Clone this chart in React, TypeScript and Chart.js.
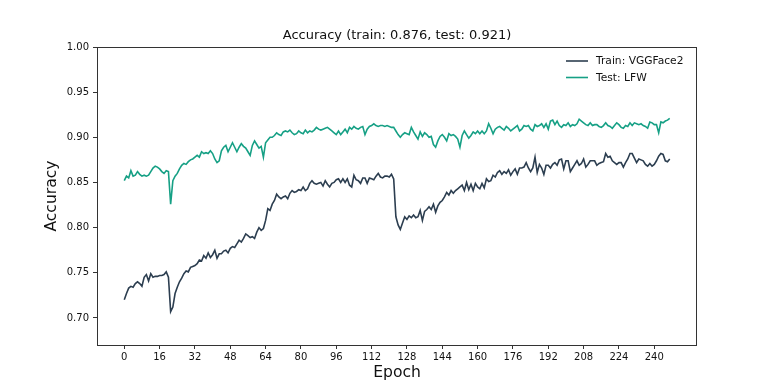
import React, { useEffect, useRef } from "react";
import { Chart, registerables } from "chart.js";

Chart.register(...registerables);

const TITLE = "Accuracy (train: 0.876, test: 0.921)";
const X_LABEL = "Epoch";
const Y_LABEL = "Accuracy";
const TRAIN_LABEL = "Train: VGGFace2";
const TEST_LABEL = "Test: LFW";

const X_TICKS = [0, 16, 32, 48, 64, 80, 96, 112, 128, 144, 160, 176, 192, 208, 224, 240];
const Y_TICKS = [0.7, 0.75, 0.8, 0.85, 0.9, 0.95, 1.0];

const TRAIN = [
  0.720, 0.727, 0.733, 0.735, 0.734, 0.738, 0.740, 0.738, 0.735, 0.745,
  0.748, 0.741, 0.749, 0.745, 0.746, 0.746, 0.747, 0.747, 0.748, 0.751,
  0.745, 0.707, 0.712, 0.727, 0.734, 0.740, 0.744, 0.749, 0.752, 0.751,
  0.756, 0.757, 0.758, 0.760, 0.764, 0.763, 0.769, 0.766, 0.772, 0.767,
  0.770, 0.775, 0.766, 0.771, 0.771, 0.774, 0.775, 0.772, 0.777, 0.779,
  0.778, 0.782, 0.786, 0.784, 0.788, 0.793, 0.791, 0.789, 0.790, 0.788,
  0.795, 0.800, 0.797, 0.799, 0.808, 0.821, 0.819, 0.826, 0.830, 0.837,
  0.834, 0.832, 0.834, 0.835, 0.832, 0.838, 0.841, 0.839, 0.840, 0.842,
  0.841, 0.845, 0.841, 0.843, 0.849, 0.852, 0.849, 0.848, 0.849, 0.850,
  0.846, 0.852, 0.848, 0.845, 0.849, 0.850, 0.853, 0.854, 0.850, 0.854,
  0.850, 0.854, 0.847, 0.845, 0.858, 0.853, 0.852, 0.849, 0.855, 0.855,
  0.849, 0.855, 0.854, 0.853, 0.857, 0.860, 0.856, 0.855, 0.857, 0.857,
  0.856, 0.859, 0.854, 0.812, 0.803, 0.798, 0.805, 0.812, 0.809, 0.813,
  0.811, 0.814, 0.811, 0.812, 0.819, 0.808, 0.818, 0.820, 0.823, 0.820,
  0.826, 0.817, 0.824, 0.828, 0.830, 0.834, 0.839, 0.836, 0.841, 0.838,
  0.841, 0.843, 0.845, 0.847, 0.841, 0.850, 0.842, 0.848, 0.841, 0.849,
  0.845, 0.843, 0.849, 0.844, 0.854, 0.851, 0.852, 0.858, 0.856, 0.861,
  0.863, 0.859, 0.862, 0.860, 0.864, 0.858, 0.862, 0.865, 0.859, 0.866,
  0.866, 0.867, 0.872, 0.866, 0.862, 0.866, 0.878, 0.861, 0.870, 0.866,
  0.859, 0.869, 0.869, 0.866, 0.870, 0.872, 0.869, 0.875, 0.876, 0.865,
  0.874, 0.874, 0.862, 0.866, 0.870, 0.874, 0.869, 0.871, 0.876, 0.867,
  0.870, 0.874, 0.874, 0.874, 0.869, 0.871, 0.872, 0.873, 0.882, 0.878,
  0.879, 0.874, 0.872, 0.870, 0.872, 0.872, 0.867, 0.872, 0.876, 0.882,
  0.882, 0.877, 0.872, 0.876, 0.875, 0.874, 0.870, 0.868, 0.871, 0.868,
  0.870, 0.874, 0.879, 0.882, 0.881, 0.874, 0.873, 0.876,
];

const TEST = [
  0.852, 0.857, 0.855, 0.863, 0.857, 0.858, 0.862, 0.859, 0.857, 0.858,
  0.857, 0.858, 0.862, 0.866, 0.868, 0.867, 0.865, 0.862, 0.860, 0.863,
  0.862, 0.826, 0.852, 0.857, 0.860, 0.865, 0.869, 0.871, 0.870, 0.873,
  0.875, 0.876, 0.878, 0.880, 0.878, 0.884, 0.882, 0.883, 0.882, 0.885,
  0.882, 0.876, 0.872, 0.874, 0.885, 0.889, 0.891, 0.884, 0.889, 0.894,
  0.889, 0.884, 0.889, 0.893, 0.890, 0.888, 0.884, 0.880, 0.891, 0.896,
  0.892, 0.888, 0.890, 0.878, 0.894, 0.897, 0.900, 0.900, 0.902, 0.905,
  0.903, 0.902, 0.906, 0.907, 0.906, 0.908, 0.905, 0.903, 0.904, 0.907,
  0.905, 0.904, 0.908, 0.905, 0.907, 0.906, 0.908, 0.911, 0.909, 0.908,
  0.909, 0.910, 0.911, 0.909, 0.907, 0.905, 0.903, 0.907, 0.903, 0.906,
  0.909, 0.905, 0.911, 0.909, 0.912, 0.910, 0.909, 0.911, 0.912, 0.903,
  0.909, 0.912, 0.913, 0.915, 0.913, 0.912, 0.913, 0.913, 0.912, 0.913,
  0.912, 0.911, 0.911, 0.907, 0.903, 0.900, 0.903, 0.905, 0.904, 0.903,
  0.911, 0.906, 0.902, 0.898, 0.906, 0.901, 0.905, 0.903, 0.900, 0.901,
  0.892, 0.889, 0.896, 0.901, 0.903, 0.900, 0.896, 0.904, 0.902, 0.903,
  0.901, 0.898, 0.889, 0.902, 0.907, 0.903, 0.899, 0.902, 0.906, 0.904,
  0.907, 0.904, 0.907, 0.904, 0.907, 0.915, 0.910, 0.904, 0.909, 0.911,
  0.912, 0.910, 0.908, 0.912, 0.910, 0.907, 0.909, 0.911, 0.913, 0.907,
  0.909, 0.913, 0.912, 0.913, 0.909, 0.907, 0.914, 0.912, 0.913, 0.915,
  0.911, 0.915, 0.909, 0.918, 0.919, 0.914, 0.918, 0.913, 0.911, 0.914,
  0.913, 0.916, 0.912, 0.914, 0.913, 0.915, 0.920, 0.918, 0.916, 0.914,
  0.913, 0.916, 0.913, 0.914, 0.914, 0.912, 0.911, 0.913, 0.916, 0.913,
  0.912, 0.910, 0.913, 0.916, 0.914, 0.911, 0.910, 0.913, 0.912, 0.916,
  0.913, 0.916, 0.915, 0.914, 0.915, 0.913, 0.912, 0.910, 0.917, 0.916,
  0.914, 0.914, 0.905, 0.917, 0.916, 0.918, 0.919, 0.921,
];

const TRAIN_COLOR = "#2c3e50";
const TEST_COLOR = "#16a085";
const FONT = "'DejaVu Sans', sans-serif";

export default function App() {
  const ref = useRef<HTMLCanvasElement>(null);

  useEffect(() => {
    const canvas = ref.current;
    if (!canvas) return;

    const decor = {
      id: "decor",
      afterDraw(chart: any) {
        const ctx = chart.ctx;
        const a = chart.chartArea;
        ctx.save();
        // frame
        ctx.strokeStyle = "#333";
        ctx.lineWidth = 1;
        ctx.strokeRect(a.left + 0.5, a.top + 0.5, a.right - a.left - 1, a.bottom - a.top);
        // title
        ctx.fillStyle = "#111";
        ctx.textAlign = "center";
        ctx.textBaseline = "middle";
        ctx.font = `13px ${FONT}`;
        ctx.fillText(TITLE, (a.left + a.right) / 2, 36);
        // x label
        ctx.font = `15.6px ${FONT}`;
        ctx.fillText(X_LABEL, (a.left + a.right) / 2, 373);
        // y label
        ctx.save();
        ctx.translate(52, (a.top + a.bottom) / 2);
        ctx.rotate(-Math.PI / 2);
        ctx.fillText(Y_LABEL, 0, 0);
        ctx.restore();
        // legend
        const items = chart.data.datasets.map((d: any) => ({ label: d.label, color: d.borderColor }));
        ctx.font = `10.7px ${FONT}`;
        ctx.textAlign = "left";
        items.forEach((it: any, i: number) => {
          const y = 61 + i * 16.5;
          ctx.strokeStyle = it.color;
          ctx.lineWidth = 1.6;
          ctx.beginPath();
          ctx.moveTo(566, y);
          ctx.lineTo(588, y);
          ctx.stroke();
          ctx.fillStyle = "#111";
          ctx.fillText(it.label, 596, y + 0.5);
        });
        ctx.restore();
      },
    };

    const chart = new Chart(canvas, {
      type: "line",
      data: {
        datasets: [
          {
            label: TRAIN_LABEL,
            data: TRAIN.map((v, i) => ({ x: i, y: v })),
            borderColor: TRAIN_COLOR,
            backgroundColor: TRAIN_COLOR,
            borderWidth: 1.6,
            pointRadius: 0,
            tension: 0,
          },
          {
            label: TEST_LABEL,
            data: TEST.map((v, i) => ({ x: i, y: v })),
            borderColor: TEST_COLOR,
            backgroundColor: TEST_COLOR,
            borderWidth: 1.6,
            pointRadius: 0,
            tension: 0,
          },
        ],
      },
      options: {
        responsive: false,
        animation: false,
        devicePixelRatio: 1,
        layout: { padding: { left: 0, right: 75, top: 47, bottom: 0 } },
        plugins: {
          legend: { display: false },
          title: { display: false },
          tooltip: { enabled: false },
        },
        scales: {
          x: {
            type: "linear",
            min: -12.35,
            max: 259.35,
            afterBuildTicks: (s: any) => {
              s.ticks = X_TICKS.map((v) => ({ value: v }));
            },
            afterFit: (s: any) => {
              s.height = 40;
            },
            grid: {
              display: true,
              drawOnChartArea: false,
              drawTicks: true,
              tickLength: 4,
              color: "#333",
            },
            border: { display: false },
            ticks: {
              autoSkip: false,
              maxRotation: 0,
              padding: 2,
              color: "#111",
              font: { family: FONT, size: 10 },
              callback: (v: any) => String(v),
            },
          },
          y: {
            type: "linear",
            min: 0.67,
            max: 1.0,
            afterBuildTicks: (s: any) => {
              s.ticks = Y_TICKS.map((v) => ({ value: v }));
            },
            afterFit: (s: any) => {
              s.width = 97;
            },
            grid: {
              display: true,
              drawOnChartArea: false,
              drawTicks: true,
              tickLength: 4,
              color: "#333",
            },
            border: { display: false },
            ticks: {
              autoSkip: false,
              padding: 4,
              color: "#111",
              font: { family: FONT, size: 10 },
              callback: (v: any) => Number(v).toFixed(2),
            },
          },
        },
      },
      plugins: [decor],
    });

    return () => chart.destroy();
  }, []);

  return (
    <div style={{ position: "absolute", left: 0, top: 0, width: 772, height: 385, background: "#fff" }}>
      <canvas ref={ref} width={772} height={385} style={{ display: "block" }} />
    </div>
  );
}
